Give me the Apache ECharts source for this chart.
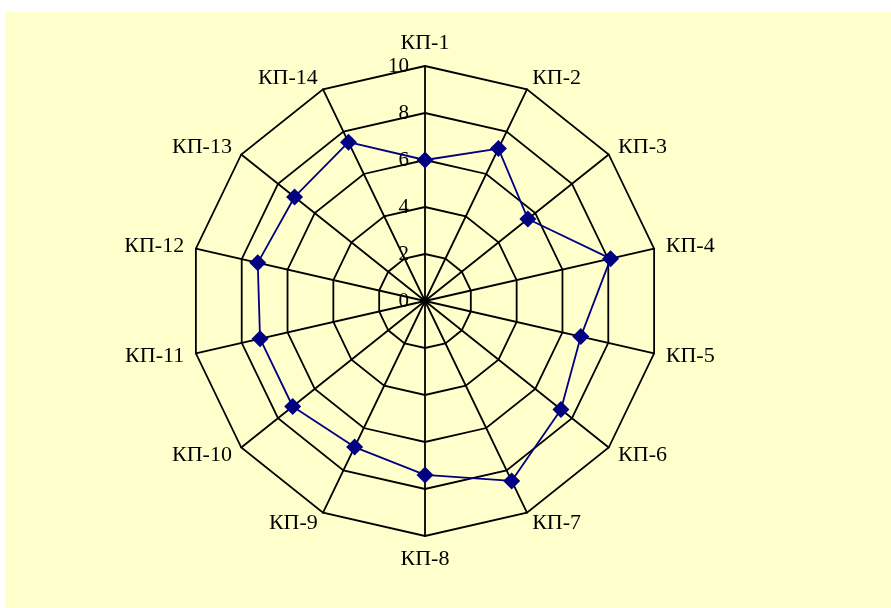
<!DOCTYPE html>
<html>
<head>
<meta charset="utf-8">
<script src="https://cdn.jsdelivr.net/npm/echarts@6/dist/echarts.min.js"></script>
<style>
  html,body{margin:0;padding:0;background:#fff;}
  #chart{position:absolute;left:5px;top:12px;width:886px;height:596px;}
</style>
</head>
<body>
<div id="chart"></div>
<script>
  // categories
  var names = ['КП-1','КП-2','КП-3','КП-4','КП-5','КП-6','КП-7','КП-8','КП-9','КП-10','КП-11','КП-12','КП-13','КП-14'];
  // series values
  var values = [6.0, 7.2, 5.6, 8.1, 6.8, 7.4, 8.5, 7.4, 6.9, 7.2, 7.2, 7.3, 7.1, 7.5];
  var axisMax = 10;

  // radar goes counter-clockwise, so keep the first one on top and reverse the rest
  var order = [0];
  for (var i = names.length - 1; i > 0; i--) order.push(i);

  var chart = echarts.init(document.getElementById('chart'));
  var center = [420, 289];
  var radius = 235;

  chart.setOption({
    backgroundColor: '#FFFFCC',
    radar: [
      {
        center: center,
        radius: radius,
        startAngle: 90,
        splitNumber: 5,
        shape: 'polygon',
        indicator: order.map(function(k){ return {name: names[k], min: 0, max: axisMax}; }),
        axisName: {color: '#000', fontFamily: 'Liberation Serif', fontSize: 22},
        nameGap: 12,
        axisLine: {lineStyle: {color: '#000', width: 1.8}},
        splitLine: {lineStyle: {color: '#000', width: 1.8}},
        splitArea: {show: false},
        axisTick: {show: false},
        axisLabel: {show: false}
      },
      {
        // only used to draw the 0..10 tick labels on the first axis
        center: center,
        radius: radius,
        startAngle: 90,
        splitNumber: 5,
        indicator: [{name: '', min: 0, max: axisMax}],
        axisName: {show: false},
        axisLine: {show: false},
        splitLine: {show: false},
        splitArea: {show: false},
        axisTick: {show: false},
        axisLabel: {show: true, color: '#000', fontFamily: 'Liberation Serif', fontSize: 21, margin: 16}
      }
    ],
    series: [
      {
        type: 'radar',
        radarIndex: 0,
        symbol: 'diamond',
        symbolSize: 17,
        lineStyle: {color: '#000080', width: 1.8},
        itemStyle: {color: '#000080'},
        data: [{value: order.map(function(k){ return values[k]; })}]
      }
    ]
  });
</script>
</body>
</html>
